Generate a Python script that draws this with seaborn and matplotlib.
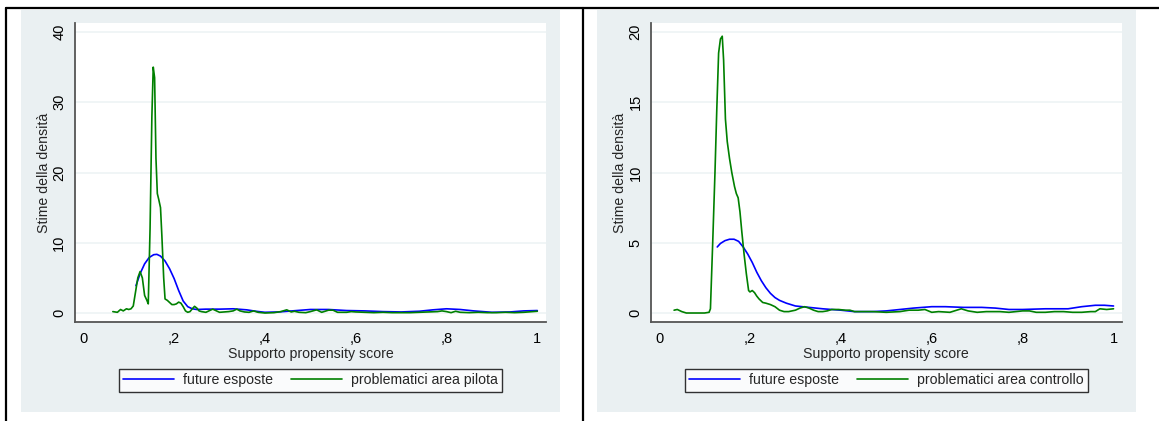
"""
Stime della densita' del propensity score: area pilota vs area controllo
"""

import numpy as np
import pandas as pd
import matplotlib
matplotlib.use('Agg')
import matplotlib.pyplot as plt
from matplotlib.patches import Rectangle
from matplotlib.lines import Line2D
import seaborn as sns


# Pannello sinistro - future esposte
left_blue_x = [0.116, 0.125, 0.135, 0.145, 0.155, 0.162, 0.17, 0.18, 0.19, 0.2,
               0.21, 0.22, 0.23, 0.24, 0.25, 0.27, 0.3, 0.33, 0.36, 0.38,
               0.4, 0.43, 0.46, 0.5, 0.54, 0.58, 0.62, 0.66, 0.7, 0.74,
               0.77, 0.8, 0.83, 0.86, 0.9, 0.94, 0.97, 1.0]
left_blue_y = [3.9, 5.6, 7.0, 7.9, 8.3, 8.35, 8.1, 7.4, 6.3, 4.9,
               3.2, 1.7, 0.9, 0.6, 0.5, 0.55, 0.55, 0.6, 0.45, 0.25,
               0.1, 0.15, 0.3, 0.5, 0.5, 0.35, 0.3, 0.2, 0.15, 0.25,
               0.45, 0.6, 0.5, 0.3, 0.1, 0.15, 0.3, 0.35]

# Pannello sinistro - problematici area pilota
left_green_x = [0.065, 0.075, 0.082, 0.088, 0.095, 0.1, 0.105, 0.11, 0.115, 0.12,
                0.125, 0.13, 0.135, 0.14, 0.143, 0.147, 0.151, 0.154, 0.157, 0.16,
                0.163, 0.166, 0.17, 0.173, 0.177, 0.18, 0.185, 0.19, 0.195, 0.2,
                0.205, 0.21, 0.215, 0.22, 0.225, 0.23, 0.235, 0.24, 0.245, 0.25,
                0.255, 0.26, 0.27, 0.28, 0.285, 0.29, 0.3, 0.31, 0.32, 0.33,
                0.338, 0.345, 0.355, 0.365, 0.375, 0.385, 0.4, 0.42, 0.435, 0.448,
                0.458, 0.465, 0.475, 0.49, 0.5, 0.514, 0.525, 0.54, 0.55, 0.56,
                0.58, 0.59, 0.6, 0.62, 0.64, 0.66, 0.68, 0.7, 0.72, 0.74,
                0.76, 0.78, 0.79, 0.8, 0.81, 0.82, 0.83, 0.85, 0.87, 0.89,
                0.91, 0.93, 0.95, 0.97, 0.99, 1.0]
left_green_y = [0.2, 0.1, 0.5, 0.3, 0.6, 0.5, 0.6, 1.0, 3.0, 5.0,
                5.9, 5.0, 2.5, 1.8, 1.3, 12.0, 28.0, 35.0, 33.5, 22.0,
                17.0, 16.2, 15.0, 11.0, 5.0, 2.0, 1.8, 1.5, 1.2, 1.2,
                1.3, 1.55, 1.4, 0.9, 0.3, 0.1, 0.2, 0.6, 0.95, 0.7,
                0.3, 0.2, 0.1, 0.4, 0.55, 0.4, 0.1, 0.15, 0.2, 0.3,
                0.55, 0.3, 0.15, 0.1, 0.3, 0.1, 0.0, 0.05, 0.2, 0.45,
                0.15, 0.25, 0.1, 0.05, 0.2, 0.45, 0.1, 0.4, 0.4, 0.1,
                0.1, 0.2, 0.15, 0.1, 0.05, 0.1, 0.05, 0.05, 0.05, 0.1,
                0.15, 0.2, 0.3, 0.2, 0.05, 0.25, 0.1, 0.05, 0.1, 0.05,
                0.05, 0.1, 0.05, 0.1, 0.2, 0.25]

# Pannello destro - future esposte
right_blue_x = [0.128, 0.135, 0.145, 0.155, 0.165, 0.175, 0.185, 0.195, 0.205, 0.215,
                0.225, 0.235, 0.245, 0.255, 0.265, 0.28, 0.3, 0.33, 0.36, 0.4,
                0.43, 0.47, 0.5, 0.53, 0.56, 0.6, 0.63, 0.67, 0.71, 0.74,
                0.77, 0.8, 0.85, 0.9, 0.93, 0.96, 0.98, 1.0]
right_blue_y = [4.7, 4.95, 5.15, 5.25, 5.25, 5.1, 4.7, 4.2, 3.6, 2.9,
                2.3, 1.8, 1.4, 1.1, 0.9, 0.7, 0.5, 0.4, 0.3, 0.2,
                0.1, 0.1, 0.15, 0.25, 0.35, 0.45, 0.45, 0.4, 0.4, 0.35,
                0.25, 0.25, 0.3, 0.3, 0.45, 0.55, 0.55, 0.5]

# Pannello destro - problematici area controllo
right_green_x = [0.033, 0.04, 0.05, 0.06, 0.08, 0.1, 0.11, 0.113, 0.118, 0.123,
                 0.127, 0.131, 0.135, 0.139, 0.142, 0.146, 0.15, 0.155, 0.16, 0.166,
                 0.17, 0.174, 0.178, 0.182, 0.187, 0.192, 0.197, 0.2, 0.205, 0.21,
                 0.215, 0.22, 0.228, 0.235, 0.245, 0.255, 0.265, 0.275, 0.285, 0.3,
                 0.31, 0.32, 0.33, 0.34, 0.35, 0.36, 0.37, 0.38, 0.395, 0.41,
                 0.42, 0.43, 0.45, 0.47, 0.5, 0.53, 0.55, 0.57, 0.585, 0.6,
                 0.615, 0.64, 0.665, 0.68, 0.7, 0.72, 0.75, 0.77, 0.8, 0.815,
                 0.83, 0.85, 0.87, 0.89, 0.91, 0.93, 0.95, 0.96, 0.97, 0.985, 1.0]
right_green_y = [0.2, 0.25, 0.1, 0.0, 0.0, 0.0, 0.05, 0.3, 5.0, 10.0,
                 14.5, 18.5, 19.5, 19.7, 18.0, 13.8, 12.2, 11.0, 10.0, 9.0,
                 8.5, 8.2, 7.2, 5.8, 4.2, 2.8, 1.6, 1.5, 1.6, 1.45,
                 1.2, 1.0, 0.75, 0.7, 0.6, 0.45, 0.2, 0.1, 0.1, 0.2,
                 0.35, 0.45, 0.35, 0.2, 0.1, 0.1, 0.15, 0.25, 0.25, 0.2,
                 0.2, 0.1, 0.1, 0.1, 0.05, 0.1, 0.2, 0.2, 0.25, 0.05,
                 0.1, 0.05, 0.3, 0.15, 0.05, 0.1, 0.1, 0.05, 0.15, 0.15,
                 0.05, 0.05, 0.1, 0.1, 0.05, 0.05, 0.1, 0.1, 0.3, 0.25, 0.3]

x_ticks = [0, 0.2, 0.4, 0.6, 0.8, 1.0]
x_tick_labels = ['0', ',2', ',4', ',6', ',8', '1']
left_y_ticks = [0, 10, 20, 30, 40]
right_y_ticks = [0, 5, 10, 15, 20]

BLUE = '#0000ff'
GREEN = '#008000'
PANEL_BG = '#eaf0f2'
GRID = '#edf3f5'
SPINE = '#555555'

W, H = 1159, 421


def make_df(bx, by, gx, gy, green_label):
    df_b = pd.DataFrame({'x': bx, 'y': by, 'serie': 'future esposte'})
    df_g = pd.DataFrame({'x': gx, 'y': gy, 'serie': green_label})
    return pd.concat([df_b, df_g], ignore_index=True)


def draw_panel(fig, rect, df, green_label, y_ticks, xlim, ymax):
    ax = fig.add_axes(rect)
    sns.lineplot(data=df, x='x', y='y', hue='serie',
                 hue_order=['future esposte', green_label],
                 palette=[BLUE, GREEN], linewidth=1.2, ax=ax, sort=False)

    pad_y = ymax * 0.032
    ax.set_xlim(*xlim)
    ax.set_ylim(-pad_y, ymax + pad_y)
    ax.set_xticks(x_ticks)
    ax.set_xticklabels(x_tick_labels)
    ax.set_yticks(y_ticks)
    ax.set_yticklabels([str(v) for v in y_ticks], rotation=90, va='center')
    ax.yaxis.grid(True, color=GRID, linewidth=1.2)
    ax.xaxis.grid(False)
    ax.set_axisbelow(True)

    for side in ['top', 'right']:
        ax.spines[side].set_visible(False)
    for side in ['left', 'bottom']:
        ax.spines[side].set_color(SPINE)
        ax.spines[side].set_linewidth(1.3)
    ax.tick_params(axis='both', direction='out', length=4, width=1.2,
                   color=SPINE, labelsize=10.5, labelcolor='black', pad=3)
    ax.tick_params(axis='y', pad=2)

    ax.set_xlabel('Supporto propensity score', fontsize=10.2, labelpad=1)
    ax.set_ylabel('Stime della densità', fontsize=10.2, labelpad=1)

    sns.move_legend(ax, 'center', bbox_to_anchor=(0.5, -0.195), ncol=2,
                    title=None, frameon=True, fontsize=10.2, handlelength=3.6,
                    handletextpad=0.6, columnspacing=1.3, borderpad=0.3,
                    fancybox=False, borderaxespad=0)
    leg = ax.get_legend()
    leg.get_frame().set_edgecolor('black')
    leg.get_frame().set_linewidth(1.0)
    for line in leg.get_lines():
        line.set_linewidth(1.2)
    return ax


def main():
    sns.set_theme(style='white')
    plt.rcParams['font.family'] = ['Liberation Sans', 'DejaVu Sans']

    fig = plt.figure(figsize=(W / 100, H / 100), dpi=100)
    fig.patch.set_facecolor('white')

    # Sfondo dei due riquadri grafici
    for x0, x1 in [(21, 560), (597, 1136)]:
        fig.add_artist(Rectangle((x0 / W, 1 - 412 / H), (x1 - x0) / W, (412 - 10) / H,
                                 transform=fig.transFigure, facecolor=PANEL_BG,
                                 edgecolor='none', zorder=0))

    # Bordi neri della tabella
    fig.add_artist(Line2D([6 / W, 1], [1 - 8 / H, 1 - 8 / H], transform=fig.transFigure,
                          color='black', linewidth=1.6))
    fig.add_artist(Line2D([6 / W, 6 / W], [0, 1 - 8 / H], transform=fig.transFigure,
                          color='black', linewidth=1.6))
    fig.add_artist(Line2D([583 / W, 583 / W], [0, 1 - 8 / H], transform=fig.transFigure,
                          color='black', linewidth=1.6))

    bottom = 1 - 322 / H
    height = (322 - 23) / H

    df_left = make_df(left_blue_x, left_blue_y, left_green_x, left_green_y,
                      'problematici area pilota')
    draw_panel(fig, [74.7 / W, bottom, 471.7 / W, height], df_left,
               'problematici area pilota', left_y_ticks, (-0.019, 1.02), 40)

    df_right = make_df(right_blue_x, right_blue_y, right_green_x, right_green_y,
                       'problematici area controllo')
    draw_panel(fig, [650.9 / W, bottom, 470.8 / W, height], df_right,
               'problematici area controllo', right_y_ticks, (-0.018, 1.018), 20)

    fig.savefig('out.png', dpi=100, facecolor='white')
    plt.close(fig)


if __name__ == "__main__":
    main()
